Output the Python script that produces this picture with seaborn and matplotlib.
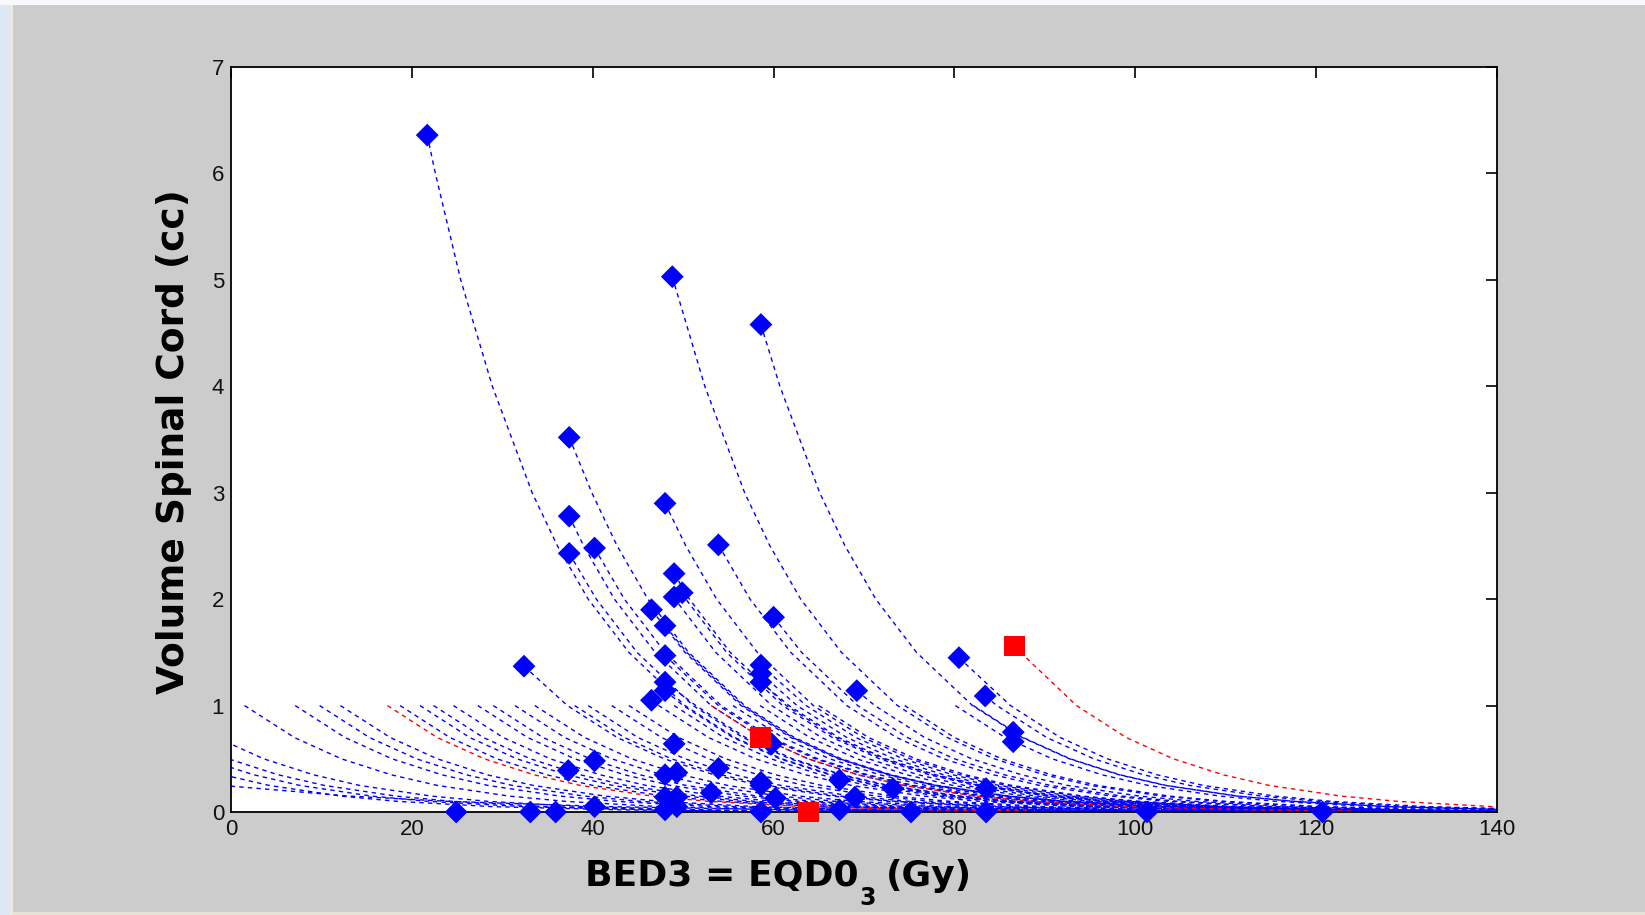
import numpy as np
import pandas as pd
import matplotlib
matplotlib.use("Agg")
import matplotlib.pyplot as plt
import seaborn as sns
from matplotlib.patches import Rectangle

# ---------------- data ----------------
N = None
# cord volume levels (cc) at which the dose (BED3, Gy) of every curve is tabulated
VOLUME_LEVELS = [6, 5, 4, 3, 2.5, 2, 1.5, 1, 0.7, 0.5, 0.35, 0.25, 0.15, 0.1, 0.05, 0.02, 0.01]

# blue curves that start at a patient marker above 1 cc
blue_start_x = [21.7, 48.8, 58.6, 37.4, 48.0, 37.4, 37.4, 40.2, 53.9, 49.0, 49.0, 49.9, 46.5,
                48.0, 60.0, 48.0, 32.4, 58.6, 58.6, 58.6, 48.0, 48.0, 46.5, 69.2, 80.5, 83.4]
blue_start_y = [6.36, 5.03, 4.58, 3.52, 2.90, 2.78, 2.43, 2.48, 2.51, 2.24, 2.02, 2.06, 1.90,
                1.75, 1.83, 1.47, 1.37, 1.38, 1.30, 1.22, 1.22, 1.14, 1.05, 1.14, 1.45, 1.09]
blue_start_doses = [
    [22.6, 25.4, 28.9, 33.3, 36.1, 39.5, 44.0, 50.2, 55.7, 60.9, 66.4, 71.5, 79.4, 85.7, 96.3, 110.4, 121.1],
    [N, 48.9, 52.4, 56.8, 59.6, 63.0, 67.5, 73.7, 79.2, 84.4, 89.9, 95.0, 102.9, 109.2, 119.8, 133.9, 144.6],
    [N, N, 60.7, 65.1, 67.9, 71.3, 75.8, 82.0, 87.5, 92.7, 98.2, 103.3, 111.2, 117.5, 128.1, 142.2, N],
    [N, N, N, 39.9, 42.7, 46.1, 50.6, 56.8, 62.3, 67.5, 73.0, 78.1, 86.0, 92.3, 102.9, 117.0, 127.7],
    [N, N, N, N, 50.3, 53.7, 58.2, 64.4, 69.9, 75.1, 80.6, 85.7, 93.6, 99.9, 110.5, 124.6, 135.3],
    [N, N, N, N, 39.0, 42.4, 46.9, 53.1, 58.6, 63.8, 69.3, 74.4, 82.3, 88.6, 99.2, 113.3, 124.0],
    [N, N, N, N, N, 40.4, 44.9, 51.1, 56.6, 61.8, 67.3, 72.4, 80.3, 86.6, 97.2, 111.3, 122.0],
    [N, N, N, N, N, 43.5, 48.0, 54.2, 59.7, 64.9, 70.4, 75.5, 83.4, 89.7, 100.3, 114.4, 125.1],
    [N, N, N, N, N, 57.4, 61.9, 68.1, 73.6, 78.8, 84.3, 89.4, 97.3, 103.6, 114.2, 128.3, 139.0],
    [N, N, N, N, N, 50.7, 55.2, 61.4, 66.9, 72.1, 77.6, 82.7, 90.6, 96.9, 107.5, 121.6, 132.3],
    [N, N, N, N, N, 49.1, 53.6, 59.8, 65.3, 70.5, 76.0, 81.1, 89.0, 95.3, 105.9, 120.0, 130.7],
    [N, N, N, N, N, 50.3, 54.8, 61.0, 66.5, 71.7, 77.2, 82.3, 90.2, 96.5, 107.1, 121.2, 131.9],
    [N, N, N, N, N, N, 50.2, 56.4, 61.9, 67.1, 72.6, 77.7, 85.6, 91.9, 102.5, 116.6, 127.3],
    [N, N, N, N, N, N, 50.4, 56.6, 62.1, 67.3, 72.8, 77.9, 85.8, 92.1, 102.7, 116.8, 127.5],
    [N, N, N, N, N, N, 63.1, 69.3, 74.8, 80.0, 85.5, 90.6, 98.5, 104.8, 115.4, 129.5, 140.2],
    [N, N, N, N, N, N, N, 53.9, 59.4, 64.6, 70.1, 75.2, 83.1, 89.4, 100.0, 114.1, 124.8],
    [N, N, N, N, N, N, N, 37.2, 42.7, 47.9, 53.4, 58.5, 66.4, 72.7, 83.3, 97.4, 108.1],
    [N, N, N, N, N, N, N, 63.6, 69.1, 74.3, 79.8, 84.9, 92.8, 99.1, 109.7, 123.8, 134.5],
    [N, N, N, N, N, N, N, 62.6, 68.1, 73.3, 78.8, 83.9, 91.8, 98.1, 108.7, 122.8, 133.5],
    [N, N, N, N, N, N, N, 61.7, 67.2, 72.4, 77.9, 83.0, 90.9, 97.2, 107.8, 121.9, 132.6],
    [N, N, N, N, N, N, N, 51.4, 56.9, 62.1, 67.6, 72.7, 80.6, 86.9, 97.5, 111.6, 122.3],
    [N, N, N, N, N, N, N, 50.0, 55.5, 60.7, 66.2, 71.3, 79.2, 85.5, 96.1, 110.2, 120.9],
    [N, N, N, N, N, N, N, 47.3, 52.8, 58.0, 63.5, 68.6, 76.5, 82.8, 93.4, 107.5, 118.2],
    [N, N, N, N, N, N, N, 71.2, 76.7, 81.9, 87.4, 92.5, 100.4, 106.7, 117.3, 131.4, 142.1],
    [N, N, N, N, N, N, N, 86.2, 91.7, 96.9, 102.4, 107.5, 115.4, 121.7, 132.3, 146.4, N],
    [N, N, N, N, N, N, N, 84.7, 90.2, 95.4, 100.9, 106.0, 113.9, 120.2, 130.8, 144.9, N],
]

# blue curves tabulated from 1 cc downward (levels 1 ... 0.01)
blue_low_doses = [
    [1.5, 7.0, 12.2, 17.7, 22.8, 30.7, 37.0, 47.6, 61.7, 72.4],
    [7.1, 12.6, 17.8, 23.3, 28.4, 36.3, 42.6, 53.2, 67.3, 78.0],
    [9.8, 15.3, 20.5, 26.0, 31.1, 39.0, 45.3, 55.9, 70.0, 80.7],
    [12.1, 17.6, 22.8, 28.3, 33.4, 41.3, 47.6, 58.2, 72.3, 83.0],
    [18.7, 24.2, 29.4, 34.9, 40.0, 47.9, 54.2, 64.8, 78.9, 89.6],
    [20.9, 26.4, 31.6, 37.1, 42.2, 50.1, 56.4, 67.0, 81.1, 91.8],
    [22.4, 27.9, 33.1, 38.6, 43.7, 51.6, 57.9, 68.5, 82.6, 93.3],
    [24.6, 30.1, 35.3, 40.8, 45.9, 53.8, 60.1, 70.7, 84.8, 95.5],
    [27.3, 32.8, 38.0, 43.5, 48.6, 56.5, 62.8, 73.4, 87.5, 98.2],
    [29.0, 34.5, 39.7, 45.2, 50.3, 58.2, 64.5, 75.1, 89.2, 99.9],
    [31.4, 36.9, 42.1, 47.6, 52.7, 60.6, 66.9, 77.5, 91.6, 102.3],
    [33.6, 39.1, 44.3, 49.8, 54.9, 62.8, 69.1, 79.7, 93.8, 104.5],
    [38.0, 43.5, 48.7, 54.2, 59.3, 67.2, 73.5, 84.1, 98.2, 108.9],
    [39.5, 45.0, 50.2, 55.7, 60.8, 68.7, 75.0, 85.6, 99.7, 110.4],
    [42.1, 47.6, 52.8, 58.3, 63.4, 71.3, 77.6, 88.2, 102.3, 113.0],
    [44.0, 49.5, 54.7, 60.2, 65.3, 73.2, 79.5, 90.1, 104.2, 114.9],
    [49.0, 54.5, 59.7, 65.2, 70.3, 78.2, 84.5, 95.1, 109.2, 119.9],
    [55.5, 61.0, 66.2, 71.7, 76.8, 84.7, 91.0, 101.6, 115.7, 126.4],
    [58.5, 64.0, 69.2, 74.7, 79.8, 87.7, 94.0, 104.6, 118.7, 129.4],
    [65.0, 70.5, 75.7, 81.2, 86.3, 94.2, 100.5, 111.1, 125.2, 135.9],
    [74.5, 80.0, 85.2, 90.7, 95.8, 103.7, 110.0, 120.6, 134.7, 145.4],
    [80.1, 85.6, 90.8, 96.3, 101.4, 109.3, 115.6, 126.2, 140.3, 151.0],
    [82.1, 87.6, 92.8, 98.3, 103.4, 111.3, 117.6, 128.2, 142.3, 153.0],
    [-7.1, -1.6, 3.6, 9.1, 14.2, 22.1, 28.4, 39.0, 53.1, 63.8],
    [-11.0, -5.5, -0.3, 5.2, 10.3, 18.2, 24.5, 35.1, 49.2, 59.9],
    [-13.7, -8.2, -3.0, 2.5, 7.6, 15.5, 21.8, 32.4, 46.5, 57.2],
    [-17.1, -11.6, -6.4, -0.9, 4.2, 12.1, 18.4, 29.0, 43.1, 53.8],
    [-30.0, -22.0, -15.0, -8.0, -1.0, 13.0, 24.0, 42.0, 62.0, 78.0],
]

# red curves
red_start_x = [86.6, N, N]
red_start_y = [1.56, N, N]
red_doses = [
    [N, N, N, N, N, N, 87.3, 93.5, 99.0, 104.2, 109.7, 114.8, 122.7, 129.0, 139.6, 153.7, N],
    [N, N, N, N, N, N, N, 17.3, 22.8, 28.0, 33.5, 38.6, 46.5, 52.8, 63.4, 77.5, 88.2],
    [N, N, N, N, N, N, N, 53.1, 58.6, 63.8, 69.3, 74.4, 82.3, 88.6, 99.2, 113.3, 124.0],
]

# patient markers
blue_marker_x = [21.7, 48.8, 58.6, 37.4, 48.0, 37.4, 37.4, 40.2, 53.9, 49.0, 49.0, 49.9, 46.5,
                 48.0, 60.0, 48.0, 32.4, 58.6, 58.6, 58.6, 48.0, 48.0, 46.5, 69.2, 80.5, 83.4,
                 86.5, 86.5, 49.0, 59.8, 40.2, 37.3, 53.9, 48.0, 49.3, 58.6, 58.6, 67.3, 53.1,
                 48.0, 49.3, 60.2, 69.0, 73.2, 83.5,
                 24.9, 33.1, 35.9, 40.2, 48.0, 49.3, 58.6, 67.3, 75.2, 83.5, 101.3, 120.7]
blue_marker_y = [6.36, 5.03, 4.58, 3.52, 2.90, 2.78, 2.43, 2.48, 2.51, 2.24, 2.02, 2.06, 1.90,
                 1.75, 1.83, 1.47, 1.37, 1.38, 1.30, 1.22, 1.22, 1.14, 1.05, 1.14, 1.45, 1.09,
                 0.75, 0.66, 0.64, 0.64, 0.48, 0.39, 0.41, 0.35, 0.37, 0.28, 0.25, 0.30, 0.18,
                 0.14, 0.14, 0.13, 0.14, 0.22, 0.22,
                 0.0, 0.0, 0.0, 0.05, 0.02, 0.05, 0.0, 0.02, 0.0, 0.0, 0.0, 0.0]
red_marker_x = [58.6, 63.9, 86.6]
red_marker_y = [0.70, 0.0, 1.56]

x_ticks = [0, 20, 40, 60, 80, 100, 120, 140]
y_ticks = [0, 1, 2, 3, 4, 5, 6, 7]
x_label_main = "BED3 = EQD0"
x_label_sub = "3"
x_label_unit = "(Gy)"
y_label = "Volume Spinal Cord (cc)"


def build_frame(starts_x, starts_y, dose_rows, levels, tag):
    rows = []
    for i, doses in enumerate(dose_rows):
        sx = starts_x[i] if starts_x is not None else None
        sy = starts_y[i] if starts_y is not None else None
        if sx is not None:
            rows.append((f"{tag}{i}", sx, sy))
        for lev, d in zip(levels, doses):
            if d is not None:
                rows.append((f"{tag}{i}", d, lev))
    return pd.DataFrame(rows, columns=["curve", "dose", "volume"])


low_levels = VOLUME_LEVELS[7:]
df_blue = pd.concat([
    build_frame(blue_start_x, blue_start_y, blue_start_doses, VOLUME_LEVELS, "a"),
    build_frame(None, None, blue_low_doses, low_levels, "b"),
], ignore_index=True)
df_red = build_frame(red_start_x, red_start_y, red_doses, VOLUME_LEVELS, "r")

# ---------------- figure ----------------
sns.set_theme(style="white")
plt.rcParams["font.family"] = ["Liberation Sans", "DejaVu Sans"]

W, H = 1645, 915
fig = plt.figure(figsize=(W / 100, H / 100), dpi=100, facecolor="#cccccc")

# window-frame decorations of the screenshot
fig.patches.append(Rectangle((0, 0), 10 / W, 1, transform=fig.transFigure,
                             facecolor="#dde7f5", edgecolor="none", zorder=0))
fig.patches.append(Rectangle((10 / W, 0), 3 / W, 1, transform=fig.transFigure,
                             facecolor="#ece9df", edgecolor="none", zorder=0))
fig.patches.append(Rectangle((0, 1 - 5 / H), 1, 5 / H, transform=fig.transFigure,
                             facecolor="#f7f9fd", edgecolor="none", zorder=0))
fig.patches.append(Rectangle((13 / W, 0), 1, 3 / H, transform=fig.transFigure,
                             facecolor="#e6e2d8", edgecolor="none", zorder=0))

ax = fig.add_axes([231 / W, 1 - 812 / H, (1497 - 231) / W, (812 - 67) / H])
ax.set_facecolor("white")

dash = (0, (3.2, 3.0))
sns.lineplot(data=df_blue, x="dose", y="volume", units="curve", estimator=None, sort=False,
             color="#0000ff", linewidth=1.0, linestyle=dash, ax=ax, legend=False, zorder=2)
sns.lineplot(data=df_red, x="dose", y="volume", units="curve", estimator=None, sort=False,
             color="#ff0000", linewidth=1.0, linestyle=dash, ax=ax, legend=False, zorder=2.5)

sns.scatterplot(x=blue_marker_x, y=blue_marker_y, marker="D", s=135, color="#0000ff",
                edgecolor="none", linewidth=0, ax=ax, zorder=3, clip_on=False, legend=False)
sns.scatterplot(x=red_marker_x, y=red_marker_y, marker="s", s=225, color="#ff0000",
                edgecolor="none", linewidth=0, ax=ax, zorder=4, clip_on=False, legend=False)

ax.set_xlim(0, 140)
ax.set_ylim(0, 7)
ax.set_xticks(x_ticks)
ax.set_yticks(y_ticks)
ax.set_xticklabels([str(t) for t in x_ticks])
ax.set_yticklabels([str(t) for t in y_ticks])
ax.tick_params(direction="in", top=True, right=True, length=8, width=1.2, color="black",
               labelsize=16, labelcolor="#111111", pad=5)
for sp in ax.spines.values():
    sp.set_visible(True)
    sp.set_color("black")
    sp.set_linewidth(1.3)
ax.set_xlabel("")
ax.set_ylabel("")
ax.grid(False)

fig.text(174 / W, 1 - 442 / H, y_label, rotation=90, ha="center", va="center",
         fontsize=27, fontweight="bold", family=["DejaVu Sans"], color="black")
# x label: main part, subscript and unit
fig.text(585 / W, 1 - 886 / H, x_label_main, ha="left", va="baseline",
         fontsize=26, fontweight="bold", family=["DejaVu Sans"], color="black")
fig.text(859 / W, 1 - 905 / H, x_label_sub, ha="left", va="baseline",
         fontsize=17, fontweight="bold", family=["DejaVu Sans"], color="black")
fig.text(886 / W, 1 - 886 / H, x_label_unit, ha="left", va="baseline",
         fontsize=26, fontweight="bold", family=["DejaVu Sans"], color="black")

fig.savefig("out.png", dpi=100, facecolor=fig.get_facecolor())
